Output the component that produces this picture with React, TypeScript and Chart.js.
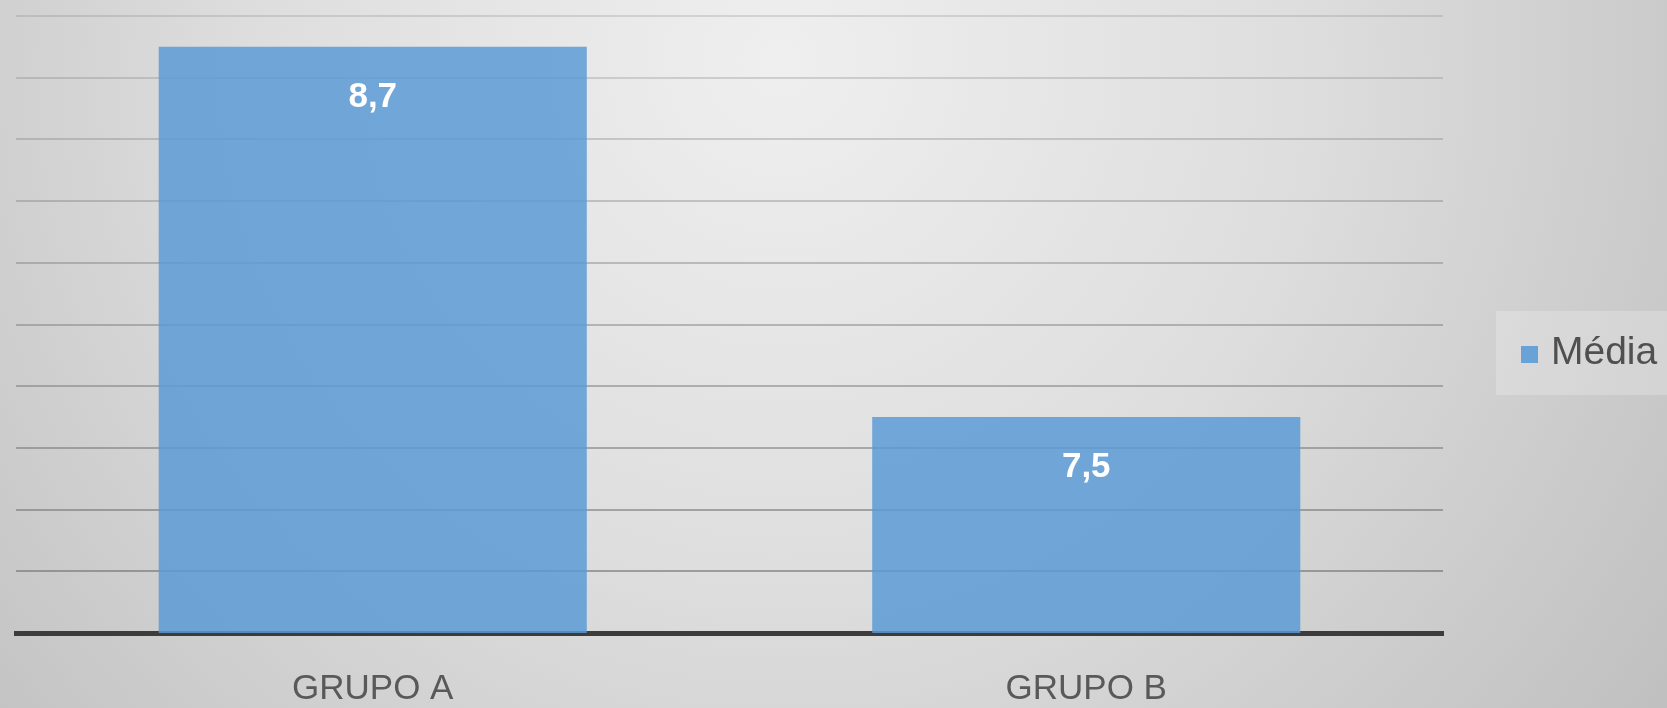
import React, { useEffect, useRef } from "react";
import { Chart, registerables } from "chart.js";

Chart.register(...registerables);

const categories = ["GRUPO A", "GRUPO B"];
const seriesName = "Média";
const mediaValues = [8.7, 7.5];
const valueLabels = ["8,7", "7,5"];
const yMin = 6.8;
const yMax = 8.8;
const yStep = 0.2;

const FONT = "'Liberation Sans', Arial, sans-serif";

const backgroundPlugin = {
  id: "bgGradient",
  beforeDraw(chart: any) {
    const { ctx, width, height } = chart;
    ctx.save();
    const g = ctx.createRadialGradient(780, 60, 0, 780, 60, 1150);
    g.addColorStop(0, "#efefef");
    g.addColorStop(0.45, "#dedede");
    g.addColorStop(1, "#bdbdbd");
    ctx.fillStyle = g;
    ctx.fillRect(0, 0, width, height);
    ctx.restore();
  },
};

const labelsPlugin = {
  id: "valueLabels",
  afterDatasetsDraw(chart: any) {
    const { ctx } = chart;
    const meta = chart.getDatasetMeta(0);
    ctx.save();
    ctx.fillStyle = "#ffffff";
    ctx.font = `bold 35px ${FONT}`;
    ctx.textAlign = "center";
    ctx.textBaseline = "middle";
    meta.data.forEach((bar: any, i: number) => {
      ctx.fillText(valueLabels[i], bar.x, bar.y + 50);
    });
    ctx.restore();
  },
};

const legendPlugin = {
  id: "customLegend",
  afterDraw(chart: any) {
    const { ctx } = chart;
    ctx.save();
    ctx.fillStyle = "rgba(255,255,255,0.22)";
    ctx.fillRect(1496, 311, 171, 84);
    ctx.fillStyle = "rgba(91,155,213,0.9)";
    ctx.fillRect(1521, 346, 17, 17);
    ctx.fillStyle = "#505050";
    ctx.font = `39px ${FONT}`;
    ctx.textAlign = "left";
    ctx.textBaseline = "alphabetic";
    ctx.fillText(seriesName, 1551, 364);
    ctx.restore();
  },
};

export default function App() {
  const canvasRef = useRef<HTMLCanvasElement | null>(null);

  useEffect(() => {
    if (!canvasRef.current) return;
    const chart = new Chart(canvasRef.current, {
      type: "bar",
      data: {
        labels: categories,
        datasets: [
          {
            label: seriesName,
            data: mediaValues,
            backgroundColor: "rgba(91,155,213,0.84)",
            borderWidth: 0,
            barPercentage: 0.6,
            categoryPercentage: 1,
          },
        ],
      },
      options: {
        animation: false,
        responsive: false,
        maintainAspectRatio: false,
        layout: { padding: { left: 16, right: 224, top: 16, bottom: -37 } },
        plugins: {
          legend: { display: false },
          tooltip: { enabled: false },
        },
        scales: {
          x: {
            grid: { display: false, drawTicks: false },
            border: { display: true, color: "#3c3c3c", width: 5 },
            ticks: {
              color: "#595959",
              font: { family: FONT, size: 35 },
              padding: 35,
            },
          },
          y: {
            min: yMin,
            max: yMax,
            ticks: { display: false, stepSize: yStep },
            border: { display: false },
            grid: {
              drawTicks: false,
              tickLength: 0,
              lineWidth: 2,
              color: (c: any) => {
                const v = c.tick ? c.tick.value : yMin;
                const t = (v - yMin) / (yMax - yMin);
                const a = 0.6 - 0.4 * t;
                return `rgba(105,105,105,${a.toFixed(3)})`;
              },
            },
          },
        },
      },
      plugins: [backgroundPlugin, labelsPlugin, legendPlugin],
    });
    return () => chart.destroy();
  }, []);

  return (
    <div style={{ position: "fixed", left: 0, top: 0, width: 1667, height: 708 }}>
      <canvas ref={canvasRef} width={1667} height={708} style={{ width: 1667, height: 708, display: "block" }} />
    </div>
  );
}
